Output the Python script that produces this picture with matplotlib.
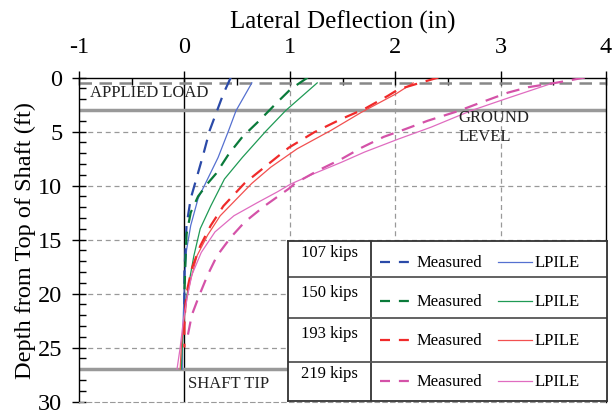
import matplotlib
matplotlib.use("Agg")
import matplotlib.pyplot as plt

plt.rcParams['font.family'] = ['Liberation Serif', 'DejaVu Serif']
plt.rcParams['axes.unicode_minus'] = False

# depth (ft) / deflection (in)
blue_meas_depth = [0, 1.5, 3.07, 4.9, 7.1, 9.5, 11.2, 13.7, 16, 18, 21]
blue_meas_x = [0.44, 0.37, 0.31, 0.24, 0.18, 0.11, 0.06, 0.02, 0.01, 0.0, 0.0]
blue_lp_depth = [0.5, 3.07, 4.9, 7.4, 9.6, 11.2, 13.7, 16, 19, 22, 25, 27]
blue_lp_x = [0.64, 0.49, 0.42, 0.32, 0.21, 0.13, 0.06, 0.02, 0.0, -0.01, -0.02, -0.02]

green_meas_depth = [0, 1.06, 2.5, 4.0, 5.5, 7.1, 8.9, 9.7, 11, 12.5, 14.5, 17, 20]
green_meas_x = [1.17, 1.01, 0.86, 0.71, 0.55, 0.42, 0.30, 0.23, 0.13, 0.06, 0.02, 0.01, 0.0]
green_lp_depth = [0.5, 3.07, 5, 7.4, 9.4, 11.9, 14, 16.5, 19.2, 21, 23, 25, 27]
green_lp_x = [1.26, 0.96, 0.77, 0.55, 0.38, 0.25, 0.15, 0.09, 0.04, 0.01, -0.01, -0.02, -0.03]

red_meas_depth = [0, 0.6, 1.1, 1.7, 2.9, 3.84, 5.08, 6.5, 8.3, 9.8, 11.9, 13.7, 15.6, 17.7, 19.5, 21, 23, 25]
red_meas_x = [2.41, 2.20, 2.03, 1.93, 1.71, 1.49, 1.23, 0.99, 0.76, 0.57, 0.37, 0.25, 0.15, 0.07, 0.03, 0.01, 0.0, 0.0]
red_lp_depth = [0.5, 1.5, 3.22, 4.9, 6.6, 8.3, 9.8, 11.2, 12.8, 14.6, 16.5, 18.7, 20.5, 23, 25, 27]
red_lp_x = [2.17, 2.01, 1.68, 1.39, 1.07, 0.82, 0.64, 0.50, 0.34, 0.22, 0.12, 0.06, 0.02, -0.01, -0.03, -0.04]

pink_meas_depth = [0, 0.5, 0.9, 1.4, 2.4, 3.1, 4.0, 4.8, 5.5, 6.5, 7.55, 8.6, 9.8, 10.3, 11.9, 13.4, 14.8, 16.5, 18.3, 20.2, 22, 24]
pink_meas_x = [3.80, 3.52, 3.26, 3.07, 2.79, 2.60, 2.31, 2.09, 1.89, 1.68, 1.49, 1.27, 1.05, 0.99, 0.76, 0.57, 0.44, 0.31, 0.22, 0.14, 0.07, 0.03]
pink_lp_depth = [0.5, 2.0, 3.07, 4.6, 5.7, 6.9, 7.85, 8.9, 9.86, 10.6, 11.6, 12.8, 14.3, 16.2, 18.3, 20.2, 22.5, 25, 27]
pink_lp_x = [3.50, 3.04, 2.72, 2.34, 2.03, 1.71, 1.49, 1.23, 1.01, 0.88, 0.69, 0.47, 0.29, 0.16, 0.07, 0.03, -0.01, -0.04, -0.07]

loads = ['107 kips', '150 kips', '193 kips', '219 kips']
meas_colors = ['#2b4aa8', '#0a7a3a', '#f02a2a', '#d452a8']
lp_colors = ['#5570d0', '#1f9a55', '#f25050', '#e06cc0']

applied_load_depth = 0.5
ground_depth = 3
tip_depth = 27

fig = plt.figure(figsize=(6.12, 4.14), dpi=100)
ax = fig.add_axes([79/612, 1-402.5/414, (606-79)/612, (402.5-78.5)/414])

ax.set_xlim(-1, 4)
ax.set_ylim(30, 0)

# grid
for gx in [1, 2, 3]:
    ax.axvline(gx, color='#999999', lw=0.9, ls=(0, (4, 3)), zorder=1)
for gy in [5, 10, 15, 20, 25]:
    ax.axhline(gy, color='#999999', lw=0.9, ls=(0, (4, 3)), zorder=1)
ax.axvline(0, color='black', lw=1.0, zorder=2)

ax.axhline(applied_load_depth, color='#888888', lw=1.8, ls=(0, (5, 3)), zorder=2)
ax.axhline(ground_depth, color='#999999', lw=2.5, zorder=2)
ax.axhline(tip_depth, color='#999999', lw=2.5, zorder=2)

meas = [(blue_meas_x, blue_meas_depth), (green_meas_x, green_meas_depth),
        (red_meas_x, red_meas_depth), (pink_meas_x, pink_meas_depth)]
lps = [(blue_lp_x, blue_lp_depth), (green_lp_x, green_lp_depth),
       (red_lp_x, red_lp_depth), (pink_lp_x, pink_lp_depth)]
for (mx, md), (lx, ld), mc, lc in zip(meas, lps, meas_colors, lp_colors):
    ax.plot(lx, ld, color=lc, lw=0.9, zorder=3)
    ax.plot(mx, md, color=mc, lw=1.6, ls=(0, (6, 4)), zorder=3)

ax.text(-0.9, 1.3, 'APPLIED LOAD', fontsize=12, va='center', ha='left', color='#222222')
ax.text(2.6, 4.5, 'GROUND\nLEVEL', fontsize=12, va='center', ha='left', color='#222222', linespacing=1.25)
ax.text(0.03, 28.3, 'SHAFT TIP', fontsize=12, va='center', ha='left', color='#222222')

# axes styling
ax.xaxis.tick_top()
ax.xaxis.set_label_position('top')
ax.set_xticks([-1, 0, 1, 2, 3, 4])
ax.set_xticks([-0.5, 0.5, 1.5, 2.5, 3.5], minor=True)
ax.set_yticks([0, 5, 10, 15, 20, 25, 30])
ax.set_yticks([d for d in range(31) if d % 5], minor=True)
ax.tick_params(which='major', direction='inout', length=10, width=1.0, labelsize=17.5)
ax.tick_params(axis='x', which='major', pad=10)
ax.tick_params(axis='y', which='major', pad=7)
ax.tick_params(which='minor', direction='in', length=5, width=1.0)
ax.tick_params(axis='x', which='both', top=True, bottom=False)
ax.tick_params(axis='y', which='both', left=True, right=False)
ax.set_xlabel('Lateral Deflection (in)', fontsize=18, labelpad=6)
ax.set_ylabel('Depth from Top of Shaft (ft)', fontsize=17.5, labelpad=1)
ax.spines['bottom'].set_color('#999999')
ax.spines['bottom'].set_linestyle((0, (4, 3)))
for s in ['top', 'left', 'right']:
    ax.spines[s].set_color('black')
    ax.spines[s].set_linewidth(1.0)

# legend table
lg = fig.add_axes([288/612, 1-402/414, (607-288)/612, (402-241.7)/414])
lg.set_xlim(0, 1)
lg.set_ylim(0, 1)
lg.set_xticks([])
lg.set_yticks([])
for s in lg.spines.values():
    s.set_color('#333333')
    s.set_linewidth(1.3)
lg.set_facecolor('white')
lg.axvline(0.259, color='#333333', lw=1.3)
for b in [0.774, 0.518, 0.243]:
    lg.axhline(b, color='#555555', lw=1.3)
label_y = [0.931, 0.68, 0.424, 0.175]
row_y = [0.869, 0.626, 0.381, 0.127]
for i in range(4):
    lg.text(0.129, label_y[i], loads[i], fontsize=12, ha='center', va='center')
    lg.plot([0.288, 0.392], [row_y[i], row_y[i]], color=meas_colors[i], lw=1.6, ls=(0, (4.5, 4)))
    lg.text(0.404, row_y[i], 'Measured', fontsize=12, ha='left', va='center')
    lg.plot([0.658, 0.765], [row_y[i], row_y[i]], color=lp_colors[i], lw=0.9)
    lg.text(0.774, row_y[i], 'LPILE', fontsize=12, ha='left', va='center')

fig.savefig('out.png', dpi=100)
